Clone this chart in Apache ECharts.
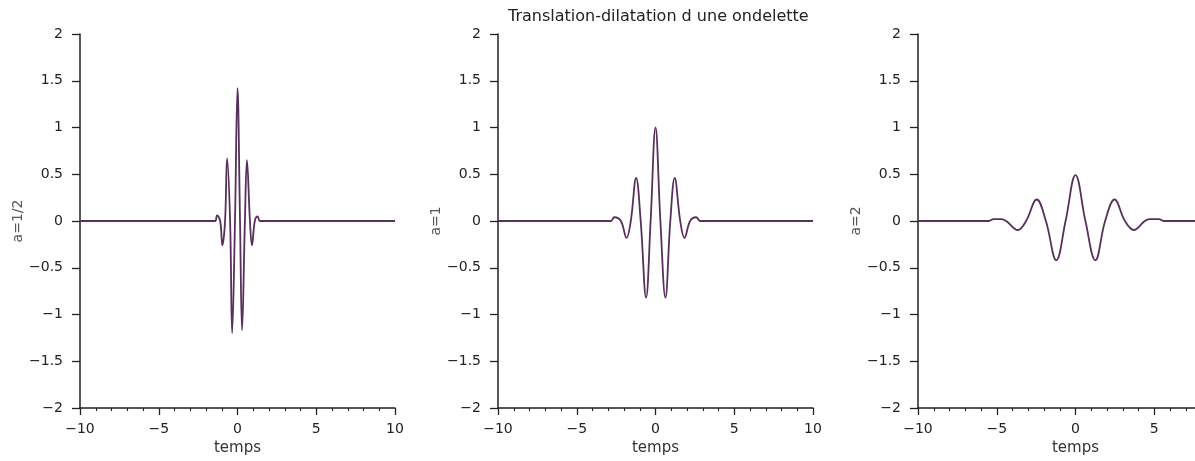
<!DOCTYPE html>
<html>
<head>
<meta charset="utf-8">
<script src="https://cdn.jsdelivr.net/npm/echarts@6/dist/echarts.min.js"></script>
<style>
  html, body { margin: 0; padding: 0; background: #fff; overflow: hidden; }
  #chart { width: 1260px; height: 461px; }
</style>
</head>
<body>
<div id="chart"></div>
<script>
// Morlet wavelet drawn at three scales a = 1/2, 1, 2 (time axis "temps").
const titleText = 'Translation-dilatation d une ondelette';
const scaleNames = ['a=1/2', 'a=1', 'a=2'];
const xName = 'temps';

// axis ranges and tick steps
const xMin = -10, xMax = 10, xStep = 5;
const yMin = -2, yMax = 2, yStep = 0.5;

// a = 1/2 : narrow, tall wavelet
const tHalf = [-10, -1.6, -1.41, -1.3, -1.1, -0.96, -0.79, -0.66, -0.47, -0.34, -0.16, 0, 0.16, 0.29, 0.47, 0.6, 0.79, 0.92, 1.1, 1.28, 1.41, 1.6, 10];
const vHalf = [0, 0, 0, 0.06, 0, -0.26, 0, 0.67, 0, -1.2, 0, 1.42, 0, -1.17, 0, 0.65, 0, -0.26, 0, 0.05, 0, 0, 0];

// a = 1 : mother wavelet
const tOne = [-10, -3.2, -2.83, -2.62, -2.2, -1.84, -1.57, -1.23, -0.94, -0.6, -0.31, 0, 0.31, 0.63, 0.94, 1.22, 1.57, 1.84, 2.2, 2.58, 2.83, 3.2, 10];
const vOne = [0, 0, 0, 0.04, 0, -0.18, 0, 0.46, 0, -0.82, 0, 1.0, 0, -0.82, 0, 0.46, 0, -0.18, 0, 0.04, 0, 0, 0];

// a = 2 : stretched, flatter wavelet
const tTwo = [-10, -5.9, -5.5, -5.2, -4.7, -4.4, -3.66, -3.14, -2.46, -1.88, -1.22, -0.63, 0, 0.63, 1.26, 1.88, 2.48, 3.14, 3.7, 4.4, 4.7, 5.3, 5.6, 5.9, 10];
const vTwo = [0, 0, 0, 0.02, 0.02, 0, -0.096, 0, 0.23, 0, -0.42, 0, 0.49, 0, -0.42, 0, 0.23, 0, -0.096, 0, 0.02, 0.02, 0, 0, 0];

const curves = [[tHalf, vHalf], [tOne, vOne], [tTwo, vTwo]];

const FONT = 'DejaVu Sans';
const INK = '#222';
const LINE = '#57305c';
const gridLefts = [80, 498, 918];
const yNameGaps = [48, 47, 39];

const minusSign = v => String(v).replace('-', '\u2212');

const grids = gridLefts.map(l => ({
  left: l, width: 315, top: 34, height: 374,
  containLabel: false, outerBoundsMode: 'none'
}));

const xAxes = gridLefts.map((_, i) => ({
  type: 'value', gridIndex: i, min: xMin, max: xMax, interval: xStep,
  name: xName, nameLocation: 'middle', nameGap: 32,
  nameTextStyle: { fontFamily: FONT, fontSize: 15, color: '#333' },
  axisLine: { show: true, onZero: false, lineStyle: { color: INK, width: 1.5 } },
  axisTick: { show: true, length: 7, lineStyle: { color: INK, width: 1.3 } },
  minorTick: { show: true, splitNumber: 5, length: 3, lineStyle: { color: INK, width: 1.1 } },
  axisLabel: { fontFamily: FONT, fontSize: 14, color: '#222', margin: 14, formatter: minusSign },
  splitLine: { show: false }, minorSplitLine: { show: false }
}));

const yAxes = gridLefts.map((_, i) => ({
  type: 'value', gridIndex: i, min: yMin, max: yMax, interval: yStep,
  name: scaleNames[i], nameLocation: 'middle', nameGap: yNameGaps[i],
  nameTextStyle: { fontFamily: FONT, fontSize: 14, color: '#555' },
  axisLine: { show: true, onZero: false, lineStyle: { color: INK, width: 1.5 } },
  axisTick: { show: true, length: 8, lineStyle: { color: INK, width: 1.3 } },
  axisLabel: { fontFamily: FONT, fontSize: 14, color: '#222', margin: 17, formatter: minusSign },
  splitLine: { show: false }
}));

const series = curves.map(([ts, vs], i) => ({
  type: 'line', xAxisIndex: i, yAxisIndex: i,
  data: ts.map((t, k) => [t, vs[k]]),
  showSymbol: false, smooth: 0.4,
  lineStyle: { color: LINE, width: 1.8 },
  animation: false
}));

const chart = echarts.init(document.getElementById('chart'), null, { renderer: 'canvas' });
chart.setOption({
  backgroundColor: '#fff',
  animation: false,
  title: {
    text: titleText, left: 503, top: 4,
    textStyle: { fontFamily: FONT, fontSize: 16, fontWeight: 'normal', color: '#222' }
  },
  grid: grids,
  xAxis: xAxes,
  yAxis: yAxes,
  series: series
});
</script>
</body>
</html>
